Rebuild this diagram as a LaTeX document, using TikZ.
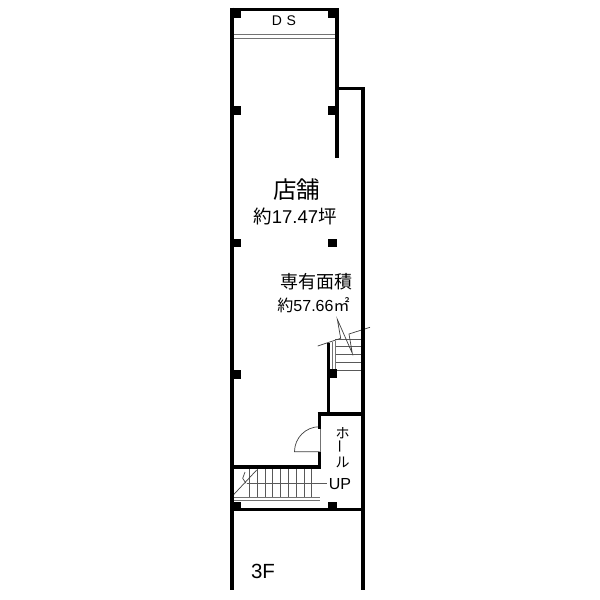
\documentclass[tikz,border=0pt]{standalone}
\usepackage{fontspec}
\setmainfont{Liberation Sans}
\newfontfamily\cjk{Noto Sans CJK JP}
\tikzset{
  wall/.style={draw=black,line width=3.6pt,line cap=butt},
  thinwall/.style={draw=black,line width=2.8pt},
  pillar/.style={fill=black,draw=none},
  tread/.style={draw=black!65,line width=0.7pt},
  fineline/.style={draw=black!75,line width=0.7pt},
  grayline/.style={draw=black!55,line width=1pt},
  lbl/.style={inner sep=0pt,text=black},
}
\begin{document}
\begin{tikzpicture}[x=1pt,y=-1pt]
\useasboundingbox (0,0) rectangle (600,600);
\fill[white] (0,0) rectangle (600,600);
% treads and thin lines
\foreach \y in {339,346,354,362,370} \draw[tread] (335,\y) -- (362,\y);
\draw[grayline] (332,342) -- (332,369) (335,341) -- (335,369);
\draw[fineline,line join=miter] (317.7,346) -- (340.7,338.3) -- (337.3,319.3) -- (352.3,353.3) -- (349,334) -- (370,327.3);
\draw[grayline] (233,34.5) -- (336,34.5) (233,38) -- (336,38);
% lower stairs
\foreach \x in {249.3,257.3,265,272.7,280.7,288.3,296,304,311.7} \draw[tread] (\x,469) -- (\x,497);
\draw[tread] (246.7,483.3) -- (327,483.3);
\draw[grayline] (233,497.7) -- (320,497.7) (233,500.3) -- (320,500.3);
\draw[fineline] (233.3,495) -- (256.7,470);
\draw[fineline] (245,472) -- (242.7,478.3) -- (246,483.3);
% door
\draw[grayline] (320,429) -- (320,452);
\draw[fineline] (319.5,451.7) -- (294.5,451.7) arc[start angle=180,end angle=270,radius=25];
% walls
\draw[wall] (232,7.5) -- (232,590);
\draw[wall] (230.2,9.3) -- (338.9,9.3);
\draw[wall] (337.1,8) -- (337.1,158);
\draw[thinwall] (337,88.6) -- (364,88.6);
\draw[wall] (363.2,87.3) -- (363.2,590);
\draw[wall] (328.4,343) -- (328.4,414);
\draw[wall] (317.7,413.8) -- (365,413.8);
\draw[wall] (319.4,412.5) -- (319.4,429);
\draw[wall] (319.4,452) -- (319.4,468.3);
\draw[wall] (233,466.7) -- (321,466.7);
\draw[wall] (230.2,509.6) -- (365,509.6);
% pillars
\fill[pillar] (230.2,8) rectangle (241,18);
\fill[pillar] (328,8) rectangle (338.9,18);
\fill[pillar] (233,106) rectangle (241,115);
\fill[pillar] (328,106) rectangle (337,115);
\fill[pillar] (233,239) rectangle (241,247);
\fill[pillar] (328,239) rectangle (337,247);
\fill[pillar] (233,370) rectangle (241,379);
\fill[pillar] (327,369.3) rectangle (337,378.3);
\fill[pillar] (230.2,502) rectangle (241,511);
\fill[pillar] (327.7,502) rectangle (337,511);
% labels
\node[lbl,font=\fontsize{14}{16}\selectfont] (ds) at (284,21) {D\,\,S};
\node[lbl,font=\cjk\fontsize{23.5}{26}\selectfont] (shop) at (296.5,190) {店舗};
\node[lbl,font=\fontsize{18.5}{20}\selectfont] (shoparea) at (295,216.5) {{\cjk 約}17.47{\cjk 坪}};
\node[lbl,font=\cjk\fontsize{18}{20}\selectfont] (net) at (316,282) {専有面積};
\node[lbl,font=\fontsize{16}{18}\selectfont] (netarea) at (313.5,305.5) {{\cjk 約}57.66{\cjk ㎡}};
\node[lbl,font=\cjk\fontsize{14}{14.5}\selectfont,align=center] (hall) at (342.5,448) {ホ\\\rotatebox{90}{ー}\\ル};
\node[lbl,font=\fontsize{16}{18}\selectfont] (up) at (340,484) {UP};
\node[lbl,font=\fontsize{20.5}{22}\selectfont] (floor) at (263,571) {3F};
\end{tikzpicture}
\end{document}
